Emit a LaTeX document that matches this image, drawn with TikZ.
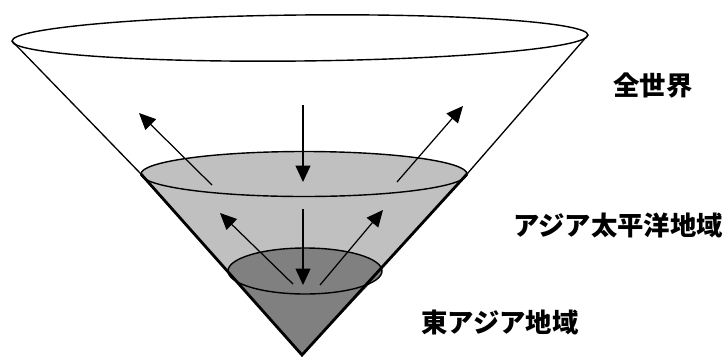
\documentclass[tikz,border=0pt]{standalone}
\usepackage{fontspec}
\newfontfamily\jpfont{Noto Sans CJK JP}
\usetikzlibrary{arrows.meta}
\definecolor{lightshade}{HTML}{C0C0C0}
\definecolor{darkshade}{HTML}{808080}

\begin{document}
\begin{tikzpicture}[x=0.02cm, y=-0.02cm,
    rim/.style={line width=0.8pt},
    side/.style={line width=0.75pt},
    heavyside/.style={line width=1.6pt},
    flow/.style={line width=0.7pt, -{Triangle[length=3.3mm, width=3mm]}},
    region/.style={font=\jpfont\bfseries\fontsize{15pt}{18pt}\selectfont, inner sep=0pt}]

    \useasboundingbox (0,0) rectangle (728,356);

    % --- Cone points ---
    \coordinate (apex) at (302,355);
    \coordinate (top-c) at (300,38);
    \coordinate (top-l) at (12,41);
    \coordinate (top-r) at (588,35);
    \coordinate (mid-c) at (304,174);
    \coordinate (mid-l) at (141,174);
    \coordinate (mid-r) at (467,174);
    \coordinate (low-c) at (305,271);
    \coordinate (low-l) at (228,271);
    \coordinate (low-r) at (382,271);

    % --- Asia-Pacific layer (light) ---
    \fill[lightshade] (mid-l) -- (apex) -- (mid-r) -- cycle;
    \fill[lightshade] (mid-c) ellipse [x radius=163, y radius=22.5];

    % --- East Asia layer (dark) ---
    \fill[darkshade] (low-l) -- (apex) -- (low-r) -- cycle;
    \fill[darkshade] (low-c) ellipse [x radius=77, y radius=23];

    % Cone sides, heavier below the middle rim
    \draw[side] (top-l) -- (mid-l);
    \draw[side] (top-r) -- (mid-r);
    \draw[heavyside] (mid-l) -- (apex) -- (mid-r);

    % Rims
    \draw[rim, rotate around={0.6:(top-c)}] (top-c) ellipse [x radius=288, y radius=23];
    \draw[rim] (mid-c) ellipse [x radius=163, y radius=22.5];
    \draw[rim] (low-c) ellipse [x radius=77, y radius=23];

    % --- Arrows between the layers ---
    \coordinate (ul-tail) at (212,185);
    \coordinate (ul-tip) at (139,113);
    \coordinate (uc-tail) at (303,105);
    \coordinate (uc-tip) at (303,182);
    \coordinate (ur-tail) at (397,182);
    \coordinate (ur-tip) at (463,106);
    \coordinate (ll-tail) at (293,284);
    \coordinate (ll-tip) at (220,213);
    \coordinate (lc-tail) at (303,209);
    \coordinate (lc-tip) at (303,285);
    \coordinate (lr-tail) at (320,285);
    \coordinate (lr-tip) at (383,210);

    \draw[flow] (ul-tail) -- (ul-tip);
    \draw[flow] (uc-tail) -- (uc-tip);
    \draw[flow] (ur-tail) -- (ur-tip);
    \draw[flow] (ll-tail) -- (ll-tip);
    \draw[flow] (lc-tail) -- (lc-tip);
    \draw[flow] (lr-tail) -- (lr-tip);

    % --- Labels ---
    \node[region] (world) at (653,86) {全世界};
    \node[region] (apac) at (618,225) {アジア太平洋地域};
    \node[region] (eastasia) at (500,322) {東アジア地域};

\end{tikzpicture}
\end{document}
